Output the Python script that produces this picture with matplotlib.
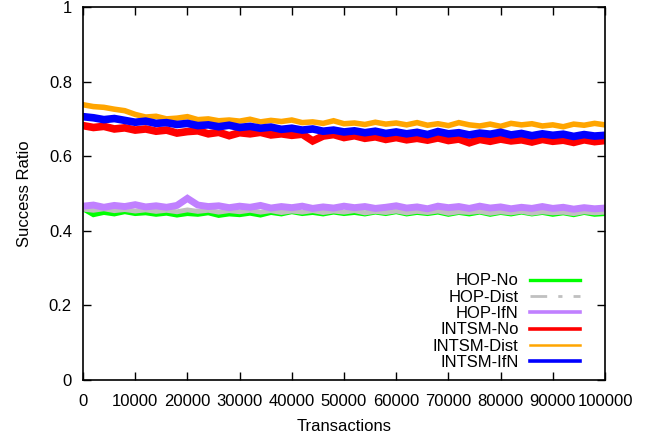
import numpy as np
import matplotlib
matplotlib.use("Agg")
import matplotlib.pyplot as plt
from matplotlib.lines import Line2D

plt.rcParams["font.family"] = ["Liberation Sans", "DejaVu Sans"]
plt.rcParams["font.size"] = 12

hop_no = [0.460, 0.444, 0.450, 0.446, 0.452, 0.447, 0.449, 0.445, 0.448, 0.443,
          0.447, 0.445, 0.449, 0.442, 0.446, 0.444, 0.448, 0.443, 0.450, 0.446,
          0.452, 0.447, 0.450, 0.446, 0.451, 0.447, 0.450, 0.446, 0.451, 0.447,
          0.452, 0.446, 0.450, 0.447, 0.451, 0.445, 0.450, 0.446, 0.451, 0.445,
          0.450, 0.446, 0.451, 0.446, 0.450, 0.445, 0.449, 0.444, 0.450, 0.445, 0.447]
hop_dist = [0.458, 0.455, 0.459, 0.454, 0.457, 0.453, 0.456, 0.452, 0.455, 0.451,
            0.456, 0.452, 0.455, 0.450, 0.454, 0.451, 0.455, 0.450, 0.454, 0.449,
            0.453, 0.450, 0.454, 0.449, 0.453, 0.450, 0.454, 0.448, 0.452, 0.449,
            0.453, 0.448, 0.452, 0.449, 0.453, 0.447, 0.451, 0.449, 0.452, 0.447,
            0.451, 0.448, 0.452, 0.447, 0.451, 0.448, 0.450, 0.446, 0.451, 0.448, 0.450]
hop_ifn = [0.466, 0.469, 0.463, 0.468, 0.465, 0.470, 0.464, 0.467, 0.463, 0.468,
           0.487, 0.469, 0.465, 0.467, 0.462, 0.466, 0.463, 0.468, 0.461, 0.465,
           0.462, 0.466, 0.460, 0.464, 0.461, 0.466, 0.462, 0.465, 0.460, 0.463,
           0.467, 0.461, 0.464, 0.459, 0.466, 0.462, 0.465, 0.460, 0.466, 0.461,
           0.464, 0.459, 0.463, 0.460, 0.465, 0.460, 0.463, 0.458, 0.462, 0.459, 0.461]
intsm_no = [0.682, 0.677, 0.680, 0.673, 0.676, 0.670, 0.673, 0.667, 0.670, 0.662,
            0.666, 0.668, 0.660, 0.664, 0.655, 0.663, 0.660, 0.664, 0.657, 0.660,
            0.656, 0.659, 0.641, 0.654, 0.658, 0.650, 0.655, 0.648, 0.652, 0.645,
            0.650, 0.644, 0.648, 0.643, 0.649, 0.642, 0.646, 0.636, 0.645, 0.640,
            0.646, 0.641, 0.644, 0.638, 0.645, 0.640, 0.643, 0.637, 0.644, 0.639, 0.642]
intsm_dist = [0.738, 0.733, 0.731, 0.726, 0.722, 0.712, 0.705, 0.707, 0.700, 0.702,
              0.706, 0.698, 0.700, 0.695, 0.697, 0.694, 0.699, 0.692, 0.696, 0.693,
              0.697, 0.690, 0.692, 0.688, 0.695, 0.687, 0.689, 0.685, 0.691, 0.686,
              0.689, 0.684, 0.690, 0.683, 0.687, 0.682, 0.690, 0.684, 0.681, 0.686,
              0.680, 0.688, 0.684, 0.687, 0.681, 0.684, 0.679, 0.686, 0.683, 0.688, 0.684]
intsm_ifn = [0.706, 0.703, 0.698, 0.701, 0.696, 0.691, 0.694, 0.688, 0.690, 0.685,
             0.688, 0.682, 0.684, 0.679, 0.683, 0.677, 0.680, 0.675, 0.678, 0.672,
             0.675, 0.670, 0.673, 0.667, 0.670, 0.665, 0.668, 0.663, 0.667, 0.661,
             0.665, 0.660, 0.664, 0.658, 0.666, 0.660, 0.663, 0.657, 0.662, 0.659,
             0.664, 0.657, 0.661, 0.655, 0.660, 0.656, 0.659, 0.653, 0.658, 0.654, 0.656]

# name, values, colour, data line width, legend line width, legend style
series = [
    ("HOP-No", hop_no, "#00ff00", 4.0, 2.4, "-"),
    ("HOP-Dist", hop_dist, "#c0c0c0", 3.5, 2.0, (0, (6, 4, 1.5, 4))),
    ("HOP-IfN", hop_ifn, "#c080ff", 5.0, 2.6, "-"),
    ("INTSM-No", intsm_no, "#ff0000", 5.5, 2.6, "-"),
    ("INTSM-Dist", intsm_dist, "#ffa500", 4.0, 1.8, "-"),
    ("INTSM-IfN", intsm_ifn, "#0000ff", 5.5, 2.6, "-"),
]

fig = plt.figure(figsize=(6.64, 4.37), dpi=100)
ax = fig.add_axes([83 / 664, 57 / 437, 522 / 664, 373 / 437])

handles = []
for name, vals, color, lw, leg_lw, leg_ls in series:
    x = np.linspace(0, 100000, len(vals))
    ax.plot(x, vals, color=color, lw=lw, solid_joinstyle="miter")
    handles.append(Line2D([], [], color=color, lw=leg_lw, ls=leg_ls, label=name))

ax.set_xlim(0, 100000)
ax.set_ylim(0, 1)
ax.set_xticks(np.arange(0, 100001, 10000))
ax.set_yticks([0, 0.2, 0.4, 0.6, 0.8, 1])
ax.set_yticklabels(["0", "0.2", "0.4", "0.6", "0.8", "1"])
ax.tick_params(direction="in", length=6, width=1, top=True, right=True)
ax.tick_params(axis="y", pad=8)
ax.tick_params(axis="x", pad=10)
for s in ax.spines.values():
    s.set_linewidth(1.2)

ax.set_xlabel("Transactions", labelpad=7)
ax.set_ylabel("Success Ratio", labelpad=12)

ax.legend(handles=handles, loc="lower right", bbox_to_anchor=(0.972, 0.0),
          frameon=False, markerfirst=False, handlelength=3.05,
          handletextpad=0.65, labelspacing=0.08, borderaxespad=0.2)

fig.savefig("out.png", dpi=100)
